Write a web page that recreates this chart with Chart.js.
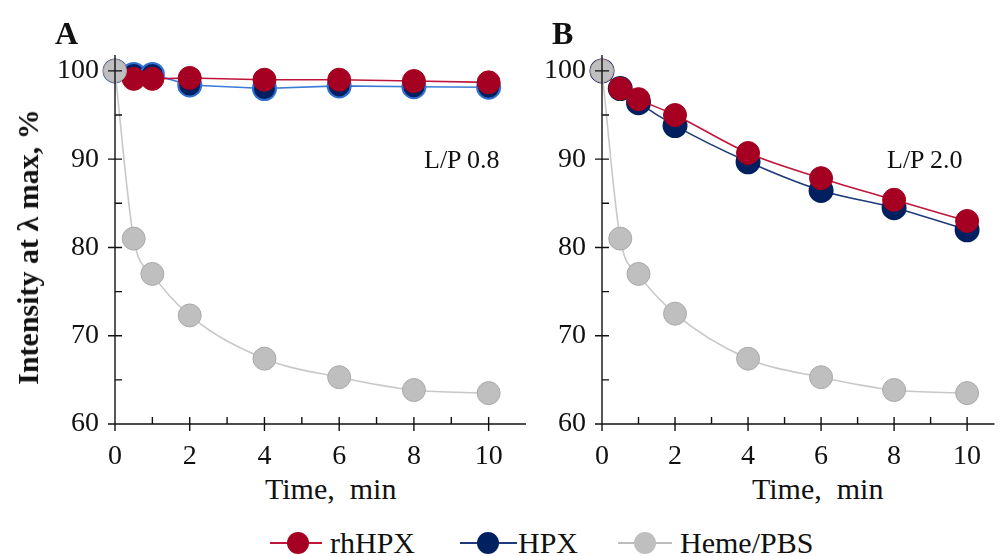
<!DOCTYPE html>
<html>
<head>
<meta charset="utf-8">
<script src="https://cdn.jsdelivr.net/npm/chart.js@4.4.1/dist/chart.umd.min.js"></script>
<style>
  body { margin: 0; width: 1008px; height: 556px; background: #fff; position: relative; overflow: hidden;
         font-family: "Liberation Serif", "Times New Roman", serif; color: #111; }
  canvas { position: absolute; top: 0; }
  .lbl { position: absolute; white-space: nowrap; line-height: 1; }
  .panel { font-weight: bold; font-size: 32px; }
  .note { font-size: 26px; }
  .ytitle { position: absolute; left: 28px; top: 247px; font-size: 30px; font-weight: bold; white-space: nowrap;
            line-height: 1; transform: translate(-50%, -50%) rotate(-90deg); }
  .legend { position: absolute; top: 526px; left: 0; width: 1008px; height: 34px; }
  .item { position: absolute; top: 0; height: 34px; font-size: 30px; line-height: 34px; }
  .item i { position: absolute; top: 16px; height: 2px; }
  .item b { position: absolute; top: 6px; width: 22px; height: 22px; border-radius: 50%; }
  .item span { position: absolute; top: 0; }
</style>
</head>
<body>
<canvas id="chartA"></canvas>
<canvas id="chartB"></canvas>

<div class="lbl panel" style="left:55px;top:17px">A</div>
<div class="lbl panel" style="left:552px;top:17px">B</div>
<div class="lbl note" style="left:424px;top:147px">L/P 0.8</div>
<div class="lbl note" style="left:887px;top:147px">L/P 2.0</div>
<div class="ytitle">Intensity at &lambda; max, %</div>
<div class="lbl" style="left:265px;top:474px;font-size:30px">Time,&nbsp; min</div>
<div class="lbl" style="left:752px;top:474px;font-size:30px">Time,&nbsp; min</div>

<div class="legend">
  <div class="item" style="left:270px"><i style="left:0;width:52px;background:#C0143C"></i><b style="left:17px;background:#A50021"></b><span style="left:60px">rhHPX</span></div>
  <div class="item" style="left:460px"><i style="left:0;width:57px;background:#1F3A7A"></i><b style="left:17px;background:#002060"></b><span style="left:58px">HPX</span></div>
  <div class="item" style="left:618px"><i style="left:0;width:54px;background:#BDBDBD"></i><b style="left:16px;background:#BFBFBF"></b><span style="left:62px">Heme/PBS</span></div>
</div>

<script>
// time points, min
const timeMin = [0, 0.5, 1, 2, 4, 6, 8, 10];

// panel A, L/P 0.8
const rhA   = [100, 99.1, 99.1, 99.2, 99.0, 99.0, 98.85, 98.7];
const hpxA  = [100, 99.6, 99.6, 98.4, 98.0, 98.3, 98.2, 98.15];
const hemeA = [100, 81.0, 77.0, 72.3, 67.4, 65.3, 63.85, 63.5];

// panel B, L/P 2.0
const rhB   = [100, 98.0, 96.8, 95.0, 90.7, 87.85, 85.4, 83.0];
const hpxB  = [100, 98.0, 96.4, 93.8, 89.7, 86.45, 84.5, 82.0];
const hemeB = [100, 81.0, 77.0, 72.5, 67.4, 65.3, 63.85, 63.5];

const xTicks = [0, 2, 4, 6, 8, 10];
const xMinor = [1, 3, 5, 7, 9];
const yTicks = [60, 70, 80, 90, 100];
const yMinor = [65, 75, 85, 95];

const pts = (ys) => timeMin.map((t, i) => ({x: t, y: ys[i]}));

// axis lines and tick marks drawn over the points, like the original
const axisMarks = {
  id: 'axisMarks',
  afterDatasetsDraw(chart) {
    const {ctx, chartArea: a, scales: {x, y}} = chart;
    ctx.save();
    ctx.strokeStyle = '#111';
    ctx.lineWidth = 1.4;
    ctx.beginPath();
    ctx.moveTo(a.left, a.top); ctx.lineTo(a.left, a.bottom);
    ctx.moveTo(a.left, a.bottom); ctx.lineTo(a.right, a.bottom);
    yTicks.forEach(v => { const p = y.getPixelForValue(v); ctx.moveTo(a.left - 7, p); ctx.lineTo(a.left + 7, p); });
    yMinor.forEach(v => { const p = y.getPixelForValue(v); ctx.moveTo(a.left, p); ctx.lineTo(a.left + 7, p); });
    xTicks.forEach(v => { const p = x.getPixelForValue(v); ctx.moveTo(p, a.bottom - 7); ctx.lineTo(p, a.bottom + 7); });
    xMinor.forEach(v => { const p = x.getPixelForValue(v); ctx.moveTo(p, a.bottom - 7); ctx.lineTo(p, a.bottom); });
    ctx.stroke();
    ctx.restore();
  }
};

function makeChart(id, cfg) {
  const el = document.getElementById(id);
  el.style.left = cfg.left + 'px';
  el.style.width = cfg.width + 'px';
  el.style.height = '470px';
  el.width = cfg.width;
  el.height = 470;

  const tickFont = {family: '"Liberation Serif", "Times New Roman", serif', size: 28};

  return new Chart(el, {
    type: 'line',
    data: {
      datasets: [
        {
          label: 'Heme/PBS', data: pts(cfg.heme), order: 0,
          borderColor: '#C8C8C8', borderWidth: 1.6,
          pointBackgroundColor: '#BFBFBF', pointBorderColor: '#AAAAAA', pointBorderWidth: 1,
          cubicInterpolationMode: 'monotone'
        },
        {
          label: 'rhHPX', data: pts(cfg.rh), order: 1,
          borderColor: '#C0143C', borderWidth: 1.6,
          pointBackgroundColor: '#A50021', pointBorderColor: '#A50021', pointBorderWidth: 1,
          cubicInterpolationMode: cfg.smooth ? 'monotone' : 'default', tension: 0
        },
        {
          label: 'HPX', data: pts(cfg.hpx), order: 2,
          borderColor: cfg.hpxLine, borderWidth: 1.6,
          pointBackgroundColor: '#002060', pointBorderColor: cfg.hpxEdge, pointBorderWidth: 2,
          cubicInterpolationMode: cfg.smooth ? 'monotone' : 'default', tension: 0
        }
      ]
    },
    options: {
      responsive: false,
      animation: false,
      clip: false,
      elements: { point: { radius: 11.5, hoverRadius: 11.5 } },
      layout: { padding: { top: 55, right: cfg.padRight, left: 0, bottom: 0 } },
      plugins: { legend: { display: false }, tooltip: { enabled: false } },
      scales: {
        x: {
          type: 'linear', min: 0, max: cfg.xMax,
          afterBuildTicks: s => { s.ticks = xTicks.map(v => ({value: v})); },
          afterFit: s => { s.height = 46; },
          grid: { display: false, drawTicks: false },
          border: { display: false },
          ticks: { font: tickFont, color: '#111', padding: 16, maxRotation: 0 }
        },
        y: {
          min: 60, max: 101.8,
          afterBuildTicks: s => { s.ticks = yTicks.map(v => ({value: v})); },
          afterFit: s => { s.width = cfg.yWidth; },
          grid: { display: false, drawTicks: false },
          border: { display: false },
          ticks: { font: tickFont, color: '#111', padding: 16 }
        }
      }
    },
    plugins: [axisMarks]
  });
}

makeChart('chartA', { left: 0, width: 545, yWidth: 115, padRight: 19, xMax: 11,
  rh: rhA, hpx: hpxA, heme: hemeA, hpxLine: '#3A7BD5', hpxEdge: '#2F6FD0', smooth: false });
makeChart('chartB', { left: 545, width: 463, yWidth: 57, padRight: 5, xMax: 10.75,
  rh: rhB, hpx: hpxB, heme: hemeB, hpxLine: '#1F3A7A', hpxEdge: '#002060', smooth: true });
</script>
</body>
</html>
